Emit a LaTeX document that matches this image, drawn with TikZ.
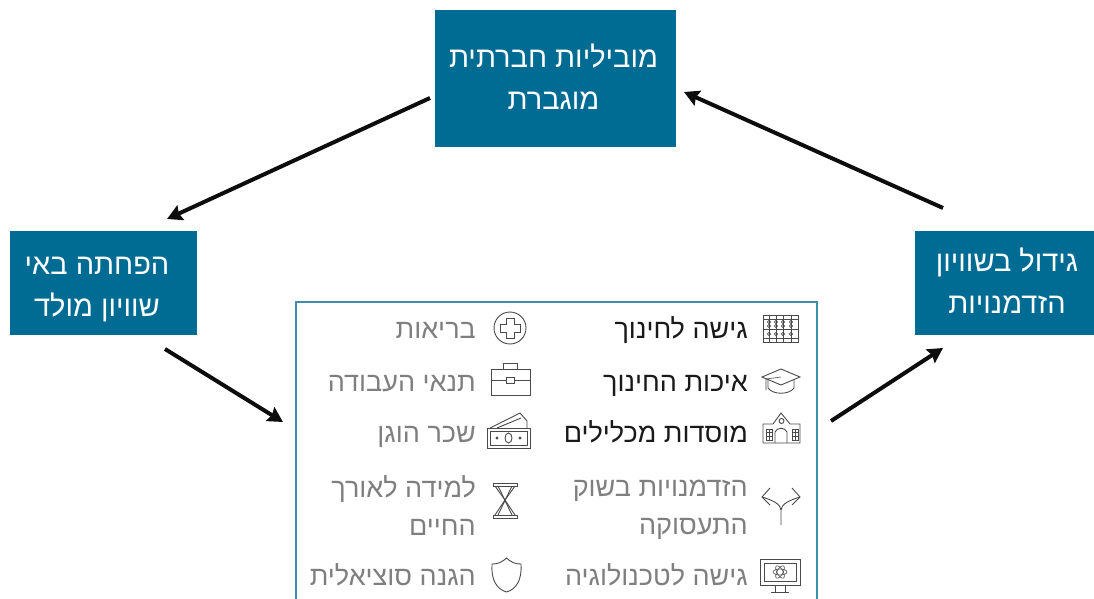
\documentclass[tikz,border=0pt]{standalone}
\usepackage{fontspec}
\newfontfamily\heb[Script=Hebrew]{Liberation Sans}
\TeXXeTstate=1
\definecolor{teal}{HTML}{006C93}
\definecolor{frame}{HTML}{3D8FAB}
\definecolor{gtext}{HTML}{7F7F7F}
\definecolor{ictext}{HTML}{4A4A4A}
\usetikzlibrary{arrows.meta}
\tikzset{x=1pt,y=-1pt,
 boxrect/.style={fill=teal,inner sep=0pt,anchor=center},
 boxtext/.style={text=white,align=center,font=\heb\fontsize{29}{42}\selectfont,inner sep=0pt,anchor=center},
 arr/.style={line width=4pt,-{Stealth[length=15pt,width=16pt,inset=2pt]},black!95},
 lab/.style={align=right,inner sep=0pt,font=\heb\fontsize{27}{38}\selectfont},
 on/.style={lab,anchor=base east,text=black!90},
 off/.style={lab,anchor=base east,text=gtext},
 offtwo/.style={lab,anchor=east,text=gtext},
 ic/.style={draw=ictext,line width=0.9pt,fill=none},
 thin ic/.style={draw=ictext,line width=.6pt,fill=none}}
\begin{document}
\begin{tikzpicture}
\useasboundingbox (0,0) rectangle (1094,599);
\node[boxrect,minimum width=241pt,minimum height=137pt] (top) at (555.5,78.5) {};
\node[boxrect,minimum width=187pt,minimum height=104pt] (left) at (103.5,283) {};
\node[boxrect,minimum width=179pt,minimum height=104pt] (right) at (1004.5,283) {};
\node[boxtext] (toptext) at (553.5,77) {\beginR מוביליות חברתית\endR\\\beginR מוגברת\endR};
\node[boxtext] (lefttext) at (97,289.5) {\beginR הפחתה באי\endR\\\beginR שוויון מולד\endR};
\node[boxtext] (righttext) at (1007,281) {\beginR גידול בשוויון\endR\\\beginR הזדמנויות\endR};
\coordinate (tl) at (430,98); \coordinate (tle) at (167,219);
\coordinate (ls) at (165,349); \coordinate (lse) at (283,422);
\coordinate (rs) at (831,421); \coordinate (rse) at (943,348);
\coordinate (re) at (943,208); \coordinate (ree) at (684,92);
\draw[arr] (tl) -- (tle);
\draw[arr] (ls) -- (lse);
\draw[arr] (rs) -- (rse);
\draw[arr] (re) -- (ree);
\draw[frame,line width=2pt] (296,599) -- (296,302) -- (817,302) -- (817,599);
% labels
\node[on] (a1) at (748,338) {\beginR גישה לחינוך\endR};
\node[on] (a2) at (748,391) {\beginR איכות החינוך\endR};
\node[on] (a3) at (748,442) {\beginR מוסדות מכלילים\endR};
\node[offtwo] (a4) at (748,510) {\beginR הזדמנויות בשוק\endR\\\beginR התעסוקה\endR};
\node[off] (a5) at (748,585) {\beginR גישה לטכנולוגיה\endR};
\node[off] (b1) at (476,338) {\beginR בריאות\endR};
\node[off] (b2) at (476,391) {\beginR תנאי העבודה\endR};
\node[off] (b3) at (476,442) {\beginR שכר הוגן\endR};
\node[offtwo] (b4) at (476,506) {\beginR למידה לאורך\endR\\\beginR החיים\endR};
\node[off] (b5) at (476,585) {\beginR הגנה סוציאלית\endR};
% abacus
\draw[ic] (763,315) rectangle (798,342);
\draw[thin ic] (763,319) -- (798,319) (763,338) -- (798,338);
\foreach \x in {769,776,783,791}{\draw[thin ic] (\x,315) -- (\x,342);
 \foreach \y in {322,326,334}{\draw[thin ic] (\x,\y) circle (1.6);}}
\draw[thin ic] (763,329) -- (798,329);
% cap
\draw[ic] (762,377) -- (781,369) -- (800,377) -- (781,385) -- cycle;
\draw[ic] (768,380) -- (768,388) .. controls (773,395) and (789,395) .. (794,388) -- (794,380);
\draw[thin ic] (781,377) -- (766,379) -- (766,390);
% school
\draw[ic] (763,443) -- (763,424) -- (773,424) -- (781,413) -- (790,424) -- (800,424) -- (800,443) -- cycle;
\draw[ic] (775,443) -- (775,432) .. controls (777,427) and (785,427) .. (787,432) -- (787,443);
\draw[ic] (781.5,421) circle (2.5);
\foreach \x in {766,792}{\draw[thin ic] (\x,429) rectangle ++(6,11) (\x,432.5) -- ++(6,0) (\x,436) -- ++(6,0) (\x+3,429) -- ++(0,11);}
% fork
\draw[ic] (781,525) -- (781,510) .. controls (781,504) and (772,500) .. (762,497);
\draw[ic] (781,510) .. controls (781,504) and (790,500) .. (800,497);
\draw[ic] (770,488) -- (762,497) -- (770,505);
\draw[ic] (792,488) -- (800,497) -- (792,505);
% monitor
\draw[ic] (760,559) rectangle (800,585);
\draw[ic] (764,563) rectangle (796,581);
\draw[ic] (775,585) -- (775,592); \draw[ic] (785,585) -- (785,592); \draw[ic] (771,592) -- (789,592);
\draw[thin ic] (780,572) ellipse (7 and 3);
\draw[thin ic,rotate around={60:(780,572)}] (780,572) ellipse (7 and 3);
\draw[thin ic,rotate around={-60:(780,572)}] (780,572) ellipse (7 and 3);
% health
\draw[ic] (510,328) circle (16);
\draw[ic] (506,318) -- (514,318) -- (514,324) -- (520,324) -- (520,332) -- (514,332) -- (514,338) -- (506,338) -- (506,332) -- (500,332) -- (500,324) -- (506,324) -- cycle;
% briefcase
\draw[ic] (491,369) rectangle (530,395);
\draw[ic] (503,369) -- (503,363) -- (517,363) -- (517,369);
\draw[ic] (491,380) -- (506,380); \draw[ic] (514,380) -- (530,380);
\draw[ic] (506,377) rectangle (514,383);
% money
\draw[ic] (487,428) rectangle (530,448);
\draw[ic] (490,431) rectangle (527,445);
\draw[ic] (508.5,438) ellipse (3.5 and 5);
\draw[ic] (497,438) circle (1); \draw[ic] (520,438) circle (1);
\draw[ic] (490,428) -- (520,413) -- (527,421) -- (527,428);
\draw[ic] (497,428) -- (521,418);
% hourglass
\draw[ic] (493,483) rectangle (517,486);
\draw[ic] (493,515) rectangle (517,518);
\draw[ic] (498,486) -- (512,515); \draw[ic] (512,486) -- (498,515);
\draw[ic] (495,486) -- (505,500) -- (515,486);
\draw[ic] (495,515) -- (505,500) -- (515,515);
% shield
\draw[ic] (506.5,558) .. controls (501,563) and (497,564) .. (492,564) .. controls (491,579) and (496,589) .. (506.5,592) .. controls (517,589) and (522,579) .. (521,564) .. controls (516,564) and (512,563) .. (506.5,558) -- cycle;
\end{tikzpicture}
\end{document}
